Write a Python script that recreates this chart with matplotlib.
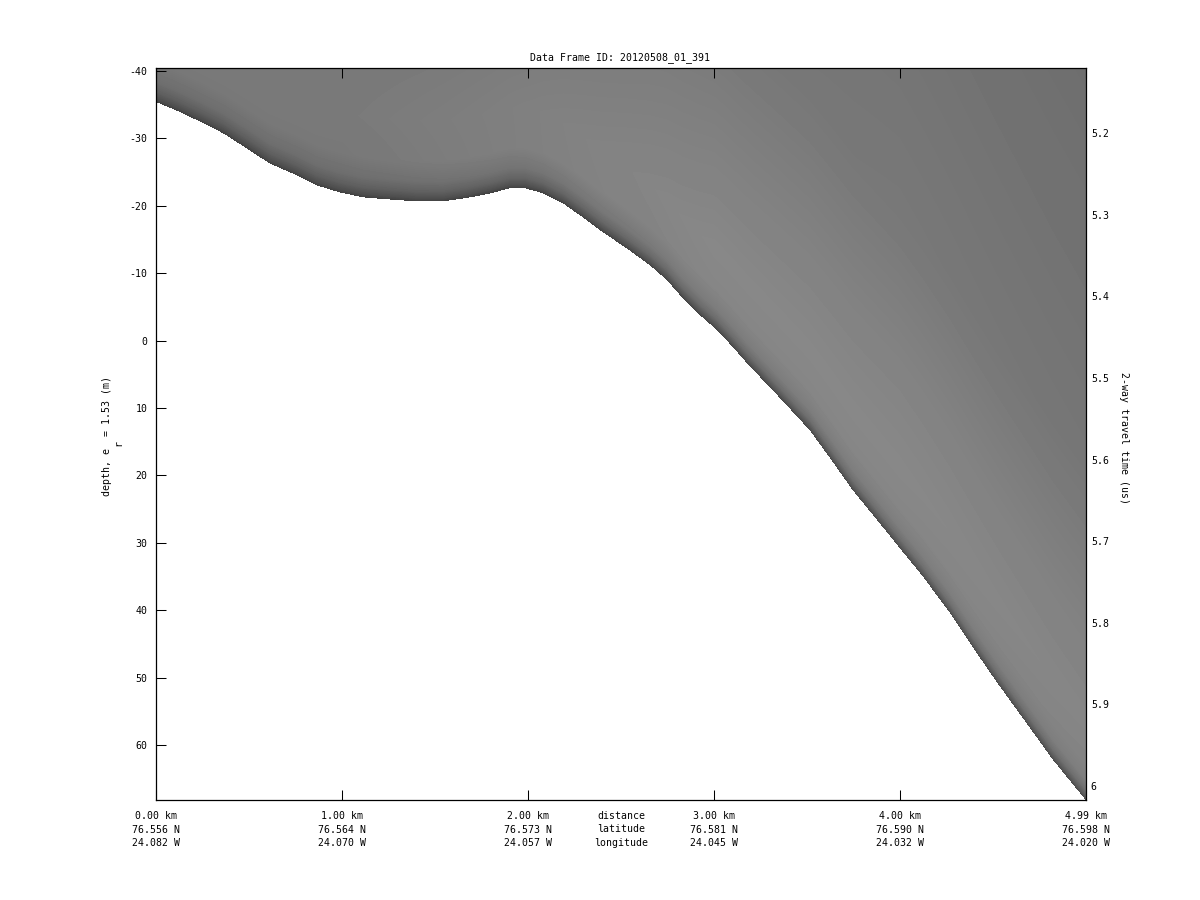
import numpy as np
import matplotlib
matplotlib.use("Agg")
import matplotlib.pyplot as plt

FONT = "DejaVu Sans Mono"
FS = 7.15

# ice surface
surface_km = [0, .108, .231, .360, .484, .608, .753, .860, .984, 1.113, 1.253, 1.398, 1.543, 1.688,
              1.796, 1.903, 1.984, 2.081, 2.188, 2.296, 2.403, 2.532, 2.656, 2.747, 2.833, 2.925,
              3.016, 3.102, 3.177, 3.355, 3.516, 3.624, 3.747, 3.892, 4.0, 4.124, 4.269, 4.392,
              4.522, 4.661, 4.823, 5.0]
surface_depth = [-35.45, -34.2, -32.6, -30.8, -28.6, -26.35, -24.6, -23.1, -22.05, -21.3, -21.0, -20.7,
                 -20.7, -21.3, -21.9, -22.65, -22.65, -21.9, -20.4, -18.3, -16.1, -13.7, -11.2, -9.0,
                 -6.3, -3.8, -1.6, 0.95, 3.3, 8.5, 13.3, 17.4, 22.2, 27.1, 30.8, 35.0, 40.4, 45.5,
                 50.7, 56.0, 62.2, 68.2]

# gray level of the radar return, by distance (columns) and height above the surface (rows)
gray_km = [0, 1, 2, 3, 4, 5]
gray_height = [0, 0.5, 1.5, 3, 6, 12, 25, 50, 110]
gray_levels = [[65, 78, 95, 110, 120, 123, 123, 123, 123],
               [65, 78, 95, 110, 120, 122, 120, 118, 118],
               [65, 80, 100, 116, 128, 128, 122, 116, 114],
               [70, 85, 108, 124, 134, 136, 130, 118, 113],
               [75, 90, 112, 126, 134, 136, 132, 120, 112],
               [75, 90, 112, 126, 132, 134, 130, 118, 110]]

depth_ticks = [-40, -30, -20, -10, 0, 10, 20, 30, 40, 50, 60]
time_ticks = [5.2, 5.3, 5.4, 5.5, 5.6, 5.7, 5.8, 5.9, 6.0]
time_labels = ["5.2", "5.3", "5.4", "5.5", "5.6", "5.7", "5.8", "5.9", "6"]
dist_ticks = [0, 1, 2, 3, 4, 5]
dist_labels = ["0.00 km", "1.00 km", "2.00 km", "3.00 km", "4.00 km", "4.99 km"]
lat_labels = ["76.556 N", "76.564 N", "76.573 N", "76.581 N", "76.590 N", "76.598 N"]
lon_labels = ["24.082 W", "24.070 W", "24.057 W", "24.045 W", "24.032 W", "24.020 W"]

y_top, y_bottom = -40.45, 68.15

fig = plt.figure(figsize=(12, 9), dpi=100)
ax = fig.add_axes([156 / 1200, 1 - 800 / 900, 930 / 1200, 732 / 900])

# build the image column by column
cols = np.linspace(0, 5, 930)
rows = np.linspace(y_top, y_bottom, 732)
surf = np.interp(cols, surface_km, surface_depth)
levels = np.array(gray_levels, dtype=float)
img = np.zeros((len(rows), len(cols)))
for j in range(len(cols)):
    height = surf[j] - rows
    profile = [np.interp(cols[j], gray_km, levels[:, k]) for k in range(len(gray_height))]
    img[:, j] = np.interp(height, gray_height, profile)
    img[height < 0, j] = 255

ax.imshow(img, cmap="gray", vmin=0, vmax=255, aspect="auto", interpolation="nearest",
          extent=[0, 5, y_bottom, y_top])
ax.set_xlim(0, 5)
ax.set_ylim(y_bottom, y_top)

ax.set_yticks(depth_ticks)
ax.set_yticklabels([str(d) for d in depth_ticks], family=FONT, fontsize=FS)
ax.set_xticks(dist_ticks)
ax.set_xticklabels([f"{a}\n{b}\n{c}" for a, b, c in zip(dist_labels, lat_labels, lon_labels)],
                   family=FONT, fontsize=FS, linespacing=1.45)
ax.tick_params(axis="both", which="major", direction="in", length=7, width=0.75, color="black",
               top=True, right=True, bottom=True, left=True)
ax.tick_params(axis="y", pad=6)
ax.tick_params(axis="x", pad=8)
for spine in ax.spines.values():
    spine.set_linewidth(0.9)

# two way travel time labels on the right, no ticks of their own
ax2 = ax.twinx()
ax2.set_ylim(6.0172, 5.1203)
ax2.set_yticks(time_ticks)
ax2.set_yticklabels(time_labels, family=FONT, fontsize=FS)
ax2.tick_params(axis="y", length=0, pad=3.5)
for spine in ax2.spines.values():
    spine.set_visible(False)

fig.text(621 / 1200, 1 - 829.5 / 900, "distance\nlatitude\nlongitude", family=FONT, fontsize=FS,
         ha="center", va="center", linespacing=1.45)

fig.text(619.5 / 1200, 1 - 58 / 900, "Data Frame ID: 20120508_01_391", family=FONT, fontsize=FS,
         ha="center", va="center")
fig.text(107 / 1200, 1 - 436 / 900, "depth, e  = 1.53 (m)", family=FONT, fontsize=FS,
         rotation=90, ha="center", va="center")
fig.text(118 / 1200, 1 - 443 / 900, "r", family=FONT, fontsize=FS, rotation=90, ha="center", va="center")
fig.text(1124 / 1200, 1 - 438 / 900, "2-way travel time (us)", family=FONT, fontsize=FS,
         rotation=-90, ha="center", va="center")

fig.savefig("out.png", dpi=100)
